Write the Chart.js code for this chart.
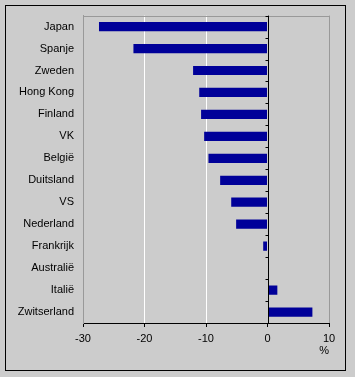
<!DOCTYPE html>
<html>
<head>
<meta charset="utf-8">
<script src="https://cdn.jsdelivr.net/npm/chart.js@4/dist/chart.umd.min.js"></script>
<style>
html,body{margin:0;padding:0;background:#cccccc;}
#wrap{width:355px;height:377px;}
</style>
</head>
<body>
<div id="wrap"><canvas id="c" width="355" height="377"></canvas></div>
<script>
const categories = ["Japan","Spanje","Zweden","Hong Kong","Finland","VK","België","Duitsland","VS","Nederland","Frankrijk","Australië","Italië","Zwitserland"];
const values = [-27.4,-21.8,-12.1,-11.1,-10.8,-10.3,-9.6,-7.7,-5.9,-5.1,-0.7,0,1.6,7.3];
const xMin = -30, xMax = 10, xStep = 10;
const unitLabel = "%";

const FONT = "'Liberation Sans', Arial, sans-serif";

const framePlugin = {
  id: 'frame',
  beforeDraw(chart) {
    const ctx = chart.ctx;
    ctx.save();
    ctx.fillStyle = '#cccccc';
    ctx.fillRect(0, 0, chart.width, chart.height);
    ctx.strokeStyle = '#000000';
    ctx.lineWidth = 1;
    ctx.strokeRect(5.5, 5.5, 340, 365);
    ctx.restore();
  },
  afterDatasetsDraw(chart) {
    const ctx = chart.ctx;
    const a = chart.chartArea;
    const xs = chart.scales.x;
    ctx.save();
    ctx.strokeStyle = '#999999';
    ctx.lineWidth = 1;
    ctx.beginPath();
    ctx.moveTo(a.left, Math.round(a.top) + 0.5);
    ctx.lineTo(a.right, Math.round(a.top) + 0.5);
    ctx.stroke();
    const x0 = Math.round(xs.getPixelForValue(0)) + 0.5;
    ctx.strokeStyle = '#000000';
    ctx.beginPath();
    ctx.moveTo(x0, a.top);
    ctx.lineTo(x0, a.bottom);
    const n = categories.length;
    const h = (a.bottom - a.top) / n;
    for (let i = 0; i < n; i++) {
      const y = Math.round(a.top + i * h) + 0.5;
      ctx.moveTo(x0 - 3, y);
      ctx.lineTo(x0, y);
    }
    ctx.stroke();
    ctx.restore();
  }
};

new Chart(document.getElementById('c'), {
  type: 'bar',
  data: {
    labels: categories,
    datasets: [{
      data: values,
      backgroundColor: '#000099',
      borderWidth: 0,
      categoryPercentage: 1,
      barPercentage: 0.42
    }]
  },
  options: {
    indexAxis: 'y',
    responsive: false,
    animation: false,
    devicePixelRatio: 1,
    layout: { padding: { left: 0, right: 26, top: 15, bottom: 14 } },
    plugins: { legend: { display: false }, tooltip: { enabled: false } },
    scales: {
      x: {
        min: xMin, max: xMax,
        afterFit(s) { s.height = 40; },
        ticks: { stepSize: xStep, color: '#000', font: { family: FONT, size: 11 }, padding: 5, maxRotation: 0 },
        grid: {
          color: (c) => {
            const v = c.tick ? c.tick.value : null;
            if (v === 0) return 'rgba(0,0,0,0)';
            if (v === xMin || v === xMax) return '#999999';
            return '#ffffff';
          },
          tickColor: '#000000',
          tickLength: 4,
          lineWidth: 1
        },
        border: { color: '#000000', width: 1 },
        title: { display: true, text: unitLabel, align: 'end', color: '#000', font: { family: FONT, size: 11 }, padding: { top: 0, bottom: 5 } }
      },
      y: {
        afterFit(s) { s.width = 83; },
        ticks: { color: '#000', font: { family: FONT, size: 11 }, padding: 9 },
        grid: { drawOnChartArea: false, drawTicks: false },
        border: { color: '#999999', width: 1 }
      }
    }
  },
  plugins: [framePlugin]
});
</script>
</body>
</html>
